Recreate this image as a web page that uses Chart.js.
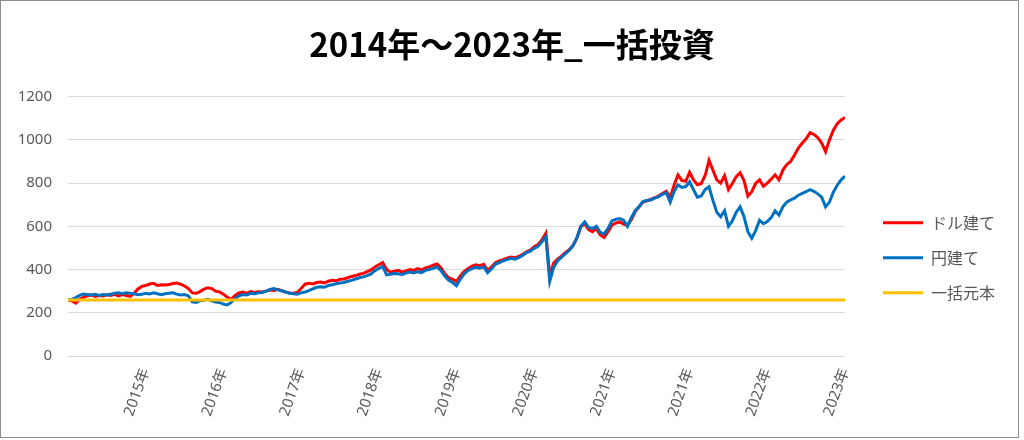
<!DOCTYPE html>
<html>
<head>
<meta charset="utf-8">
<script src="https://cdn.jsdelivr.net/npm/chart.js@4/dist/chart.umd.min.js"></script>
<style>
  body { margin: 0; background: #fff; }
  #frame { position: absolute; left: 0; top: 0; width: 1017px; height: 436px; border: 1px solid #8c8c8c; }
  canvas { display: block; }
</style>
</head>
<body>
<div id="frame"><canvas id="chart" width="1017" height="436"></canvas></div>
<script>
// x tick labels (one every 20 points, as in the source sheet)
const yearTicks = ['2015年', '2016年', '2017年', '2018年', '2019年', '2020年', '2021年', '2021年', '2022年', '2023年'];

// ドル建て (red)
const dollarValues = [
  259, 255, 245, 262, 272, 278, 282, 276, 280, 278,
  283, 280, 285, 278, 284, 280, 276, 290, 310, 322,
  326, 333, 336, 326, 330, 328, 331, 335, 338, 332,
  324, 312, 292, 290, 298, 310, 316, 312, 300, 296,
  286, 272, 262, 280, 292, 296, 290, 298, 294, 297,
  296, 300, 305, 303, 308, 302, 296, 292, 290, 294,
  312, 332, 336, 333, 340, 342, 338, 346, 350, 348,
  355, 356, 362, 368, 372, 378, 382, 390, 398, 412,
  422, 432, 400, 388, 392, 396, 388, 394, 400, 396,
  404, 398, 408, 412, 420, 426, 408, 380, 362, 355,
  345, 370, 392, 405, 416, 422, 418, 424, 396, 412,
  432, 440, 446, 452, 458, 455, 460, 470, 482, 490,
  505, 516, 538, 568, 370, 430, 448, 462, 478, 492,
  512, 545, 598, 612, 585, 575, 590, 560, 548, 575,
  605, 615, 620, 610, 605, 630, 668, 690, 712, 718,
  725, 732, 740, 752, 762, 732, 790, 838, 812, 808,
  850, 815, 792, 798, 835, 905, 860, 815, 800, 835,
  770, 798, 830, 848, 812, 740, 760, 798, 815, 785,
  800, 818, 838, 815, 860, 885, 900, 930, 962, 985,
  1005, 1033, 1025, 1010, 985, 945, 1000, 1045, 1075, 1092,
  1103
];

// 円建て (blue)
const yenValues = [
  259, 262, 270, 280, 287, 284, 282, 285, 280, 284,
  282, 286, 290, 292, 288, 293, 290, 288, 283, 286,
  290, 287, 292, 288, 284, 288, 290, 292, 286, 282,
  284, 278, 250, 248, 256, 258, 262, 255, 250, 248,
  240, 236, 248, 266, 278, 284, 282, 290, 288, 292,
  294, 300, 308, 312, 306, 302, 296, 290, 288, 286,
  292, 296, 302, 310, 318, 320, 318, 326, 330, 334,
  338, 340, 346, 350, 356, 362, 366, 372, 380, 395,
  405, 415, 375, 378, 382, 380, 376, 384, 388, 384,
  390, 386, 396, 400, 406, 412, 395, 370, 350, 340,
  325, 356, 380, 396, 404, 410, 406, 412, 385, 402,
  424, 432, 440, 446, 452, 448, 455, 465, 478, 485,
  498, 508, 528, 552, 345, 410, 440, 456, 472, 488,
  510, 548, 600, 620, 595, 590, 600, 572, 565, 590,
  625, 632, 636, 628, 600, 640, 672, 692, 715, 720,
  722, 730, 736, 748, 755, 712, 760, 792, 780, 784,
  806, 770, 735, 740, 770, 783, 720, 665, 644, 672,
  600, 625, 665, 690, 645, 575, 545, 580, 628, 612,
  622, 640, 672, 652, 690, 712, 722, 730, 744, 752,
  760, 770, 762, 750, 735, 690, 712, 758, 790, 815,
  832
];

// 一括元本 (flat)
const principal = 259;

const grey = '#595959';

const lineSet = (label, values, color, order) => ({
  label: label,
  data: values.map((y, x) => ({ x: x, y: y })),
  borderColor: color,
  backgroundColor: color,
  pointBorderColor: color,
  pointBackgroundColor: color,
  pointBorderWidth: 3,
  order: order
});

const ctx = document.getElementById('chart').getContext('2d');
const chart = new Chart(ctx, {
  type: 'line',
  data: {
    datasets: [
      lineSet('ドル建て', dollarValues, '#FF0000', 3),
      lineSet('円建て', yenValues, '#0070C0', 2),
      lineSet('一括元本', dollarValues.map(() => principal), '#FFC000', 1)
    ]
  },
  options: {
    responsive: false,
    animation: false,
    elements: {
      point: { radius: 0, hoverRadius: 0 },
      line: { borderWidth: 3, tension: 0 }
    },
    layout: { padding: { left: 18, right: 13, top: 0, bottom: 18 } },
    plugins: {
      title: {
        display: true,
        text: '2014年～2023年_一括投資',
        color: '#000',
        font: { family: 'Noto Sans CJK JP', size: 33, weight: 'bold' },
        padding: { top: 24, bottom: 32 }
      },
      legend: {
        position: 'right',
        // empty title only pushes the items down to sit beside the plot
        title: { display: true, text: '', font: { size: 12 }, padding: { top: 81, bottom: 0 } },
        labels: {
          usePointStyle: true,
          pointStyle: 'line',
          pointStyleWidth: 40,
          padding: 19,
          color: grey,
          font: { family: 'Noto Sans CJK JP', size: 16 },
          sort: (a, b) => a.datasetIndex - b.datasetIndex
        }
      },
      tooltip: { enabled: false }
    },
    scales: {
      x: {
        type: 'linear',
        min: 0,
        max: 200,
        grid: { display: false, drawTicks: false },
        border: { display: false },
        ticks: {
          stepSize: 20,
          autoSkip: false,
          minRotation: 70,
          maxRotation: 70,
          padding: 10,
          color: grey,
          font: { family: 'Noto Sans, Noto Sans CJK JP', size: 15 },
          callback: (v) => yearTicks[v / 20 - 1] || ''
        },
        afterFit: (axis) => { axis.height = 63; }
      },
      y: {
        min: 0,
        max: 1200,
        grid: { color: '#d9d9d9', lineWidth: 1, drawTicks: false },
        border: { display: false },
        ticks: {
          stepSize: 200,
          padding: 16,
          color: grey,
          font: { family: 'Noto Sans', size: 15 },
          callback: (v) => String(v)
        },
        afterFit: (axis) => { axis.width = 49; }
      },
      // empty axis used as a spacer between plot and legend
      gap: {
        position: 'right',
        grid: { display: false, drawTicks: false },
        border: { display: false },
        ticks: { display: false },
        afterFit: (axis) => { axis.width = 19; }
      }
    }
  }
});
</script>
</body>
</html>
